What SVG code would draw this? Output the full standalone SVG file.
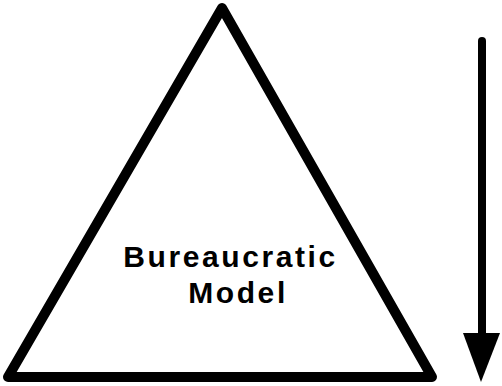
<svg xmlns="http://www.w3.org/2000/svg" width="502" height="386" viewBox="0 0 502 386">
<style>
.shape{fill:none;stroke:#000;stroke-width:10;stroke-linejoin:round;stroke-linecap:round}
.lbl{font-family:"Liberation Sans",Arial,sans-serif;font-weight:bold;font-size:30px;fill:#000;text-anchor:middle;letter-spacing:2.6px}
</style>
<g id="triangle">
<polygon class="shape" points="222,8 432,377 8,377"/>
<text class="lbl" x="230.5" y="266.5">Bureaucratic</text>
<text class="lbl" x="238" y="302.5">Model</text>
</g>
<g id="connectors">
<line x1="482" y1="41" x2="482" y2="340" stroke="#000" stroke-width="8" stroke-linecap="round"/>
<polygon points="463,333 500,333 481,382" fill="#000"/>
</g>
</svg>
